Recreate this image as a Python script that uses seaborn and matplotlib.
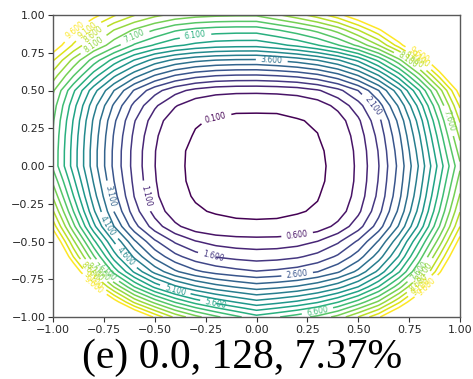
import numpy as np
import matplotlib
matplotlib.use("Agg")
import matplotlib.pyplot as plt
import seaborn as sns

# Grid coordinates along the two perturbation directions
x_coords = [-1.0, -0.9, -0.8, -0.7, -0.6, -0.5, -0.4, -0.3, -0.2, -0.1, 0.0,
            0.1, 0.2, 0.3, 0.4, 0.5, 0.6, 0.7, 0.8, 0.9, 1.0]
y_coords = [-1.0, -0.9, -0.8, -0.7, -0.6, -0.5, -0.4, -0.3, -0.2, -0.1, 0.0,
            0.1, 0.2, 0.3, 0.4, 0.5, 0.6, 0.7, 0.8, 0.9, 1.0]

# Loss values, one row per y coordinate (bottom to top), columns follow x_coords
loss_rows = [
    [18.11, 15.74, 13.75, 12.02, 10.66, 9.50, 8.47, 7.77, 7.21, 6.72, 6.28, 6.55, 6.86, 7.24, 7.78, 8.61, 9.51, 10.63, 12.06, 13.66, 15.56],
    [15.94, 13.66, 11.67, 9.93, 8.48, 7.42, 6.54, 5.89, 5.42, 5.06, 4.75, 4.94, 5.18, 5.53, 6.06, 6.79, 7.69, 9.00, 10.39, 12.09, 13.96],
    [14.14, 11.84, 9.76, 8.07, 6.59, 5.48, 4.71, 4.19, 3.81, 3.56, 3.36, 3.48, 3.66, 3.97, 4.42, 5.10, 6.11, 7.39, 8.98, 10.65, 12.59],
    [12.53, 10.34, 8.23, 6.41, 5.01, 3.94, 3.19, 2.70, 2.42, 2.25, 2.13, 2.21, 2.34, 2.59, 3.03, 3.74, 4.73, 6.05, 7.64, 9.51, 11.43],
    [11.39, 9.09, 7.16, 5.36, 3.99, 2.95, 2.25, 1.82, 1.57, 1.45, 1.38, 1.42, 1.53, 1.76, 2.18, 2.85, 3.86, 5.14, 6.83, 8.68, 10.57],
    [10.42, 8.21, 6.23, 4.56, 3.18, 2.19, 1.53, 1.13, 0.92, 0.82, 0.79, 0.81, 0.90, 1.11, 1.52, 2.18, 3.15, 4.47, 6.10, 7.86, 9.85],
    [9.40, 7.26, 5.25, 3.60, 2.28, 1.34, 0.71, 0.32, 0.165, 0.134, 0.128, 0.132, 0.166, 0.33, 0.74, 1.39, 2.34, 3.66, 5.25, 7.12, 9.09],
    [8.65, 6.61, 4.68, 3.08, 1.82, 0.91, 0.30, 0.119, 0.085, 0.071, 0.068, 0.071, 0.085, 0.12, 0.33, 0.99, 1.93, 3.21, 4.79, 6.64, 8.57],
    [8.03, 6.12, 4.31, 2.78, 1.58, 0.71, 0.15, 0.086, 0.052, 0.039, 0.037, 0.039, 0.053, 0.090, 0.19, 0.81, 1.72, 2.96, 4.51, 6.31, 8.16],
    [7.49, 5.73, 4.05, 2.60, 1.47, 0.64, 0.13, 0.074, 0.041, 0.027, 0.024, 0.027, 0.042, 0.078, 0.14, 0.73, 1.63, 2.83, 4.32, 6.05, 7.82],
    [6.99, 5.38, 3.83, 2.47, 1.40, 0.61, 0.127, 0.071, 0.038, 0.025, 0.020, 0.025, 0.040, 0.075, 0.135, 0.71, 1.58, 2.74, 4.17, 5.82, 7.50],
    [7.00, 5.39, 3.83, 2.48, 1.41, 0.62, 0.129, 0.073, 0.041, 0.027, 0.025, 0.027, 0.042, 0.078, 0.147, 0.74, 1.63, 2.84, 4.33, 6.07, 7.84],
    [7.06, 5.45, 3.90, 2.55, 1.49, 0.69, 0.16, 0.088, 0.055, 0.044, 0.042, 0.044, 0.058, 0.095, 0.21, 0.83, 1.75, 3.00, 4.55, 6.35, 8.22],
    [7.16, 5.57, 4.02, 2.69, 1.63, 0.84, 0.28, 0.114, 0.085, 0.072, 0.070, 0.073, 0.088, 0.122, 0.35, 1.01, 1.95, 3.24, 4.83, 6.70, 8.65],
    [7.35, 5.80, 4.29, 3.01, 1.95, 1.18, 0.64, 0.29, 0.16, 0.13, 0.13, 0.13, 0.17, 0.33, 0.75, 1.39, 2.36, 3.69, 5.30, 7.19, 9.19],
    [7.68, 6.20, 4.80, 3.60, 2.55, 1.79, 1.27, 0.95, 0.78, 0.72, 0.71, 0.74, 0.82, 1.04, 1.44, 2.11, 3.09, 4.44, 6.09, 7.89, 9.93],
    [8.37, 7.14, 5.86, 4.71, 3.81, 3.09, 2.59, 2.29, 2.13, 2.07, 2.06, 2.13, 2.25, 2.49, 2.93, 3.62, 4.60, 5.89, 7.46, 9.30, 11.17],
    [9.14, 7.95, 6.87, 5.90, 5.07, 4.41, 3.98, 3.72, 3.58, 3.52, 3.51, 3.63, 3.81, 4.09, 4.53, 5.20, 6.21, 7.43, 8.98, 10.60, 12.48],
    [10.04, 9.03, 8.07, 7.31, 6.53, 6.05, 5.70, 5.47, 5.33, 5.28, 5.27, 5.47, 5.72, 6.08, 6.57, 7.22, 8.10, 9.35, 10.68, 12.31, 14.13],
    [10.68, 9.68, 8.84, 8.09, 7.53, 7.08, 6.66, 6.45, 6.35, 6.31, 6.31, 6.57, 6.87, 7.25, 7.79, 8.59, 9.48, 10.57, 11.99, 13.56, 15.42],
    [11.45, 10.59, 9.80, 9.17, 8.63, 8.23, 7.96, 7.79, 7.71, 7.68, 7.68, 8.03, 8.41, 8.86, 9.42, 10.14, 11.07, 12.22, 13.57, 15.21, 17.04],
]

# Contour levels: 0.1, 0.6, ..., 9.6
levels = np.arange(0.1, 10.0, 0.5)

caption = "(e) 0.0, 128, 7.37%"

sns.set_theme(style="ticks")
plt.rcParams["font.family"] = ["DejaVu Sans"]

fig = plt.figure(figsize=(4.73, 3.79), dpi=100)
ax = fig.add_axes([53 / 473, 62 / 379, 407 / 473, 302 / 379])

X, Y = np.meshgrid(x_coords, y_coords)
Z = np.array(loss_rows)

cmap = sns.color_palette("viridis", as_cmap=True)
cs = ax.contour(X, Y, Z, levels=levels, cmap=cmap, linewidths=1.1)
ax.clabel(cs, inline=True, fontsize=5.5, fmt="%1.3f")

ax.set_xlim(-1, 1)
ax.set_ylim(-1, 1)
ax.set_xticks(np.arange(-1.0, 1.01, 0.25))
ax.set_yticks(np.arange(-1.0, 1.01, 0.25))
ax.tick_params(labelsize=8, length=3.5, width=0.8, color="0.2", labelcolor="0.15", pad=2)
for sp in ax.spines.values():
    sp.set_color("0.35")
    sp.set_linewidth(1.0)

fig.text(0.512, 0.028, caption, family=["Liberation Serif"], fontsize=30,
         ha="center", va="baseline", color="black")

fig.savefig("out.png", dpi=100)
